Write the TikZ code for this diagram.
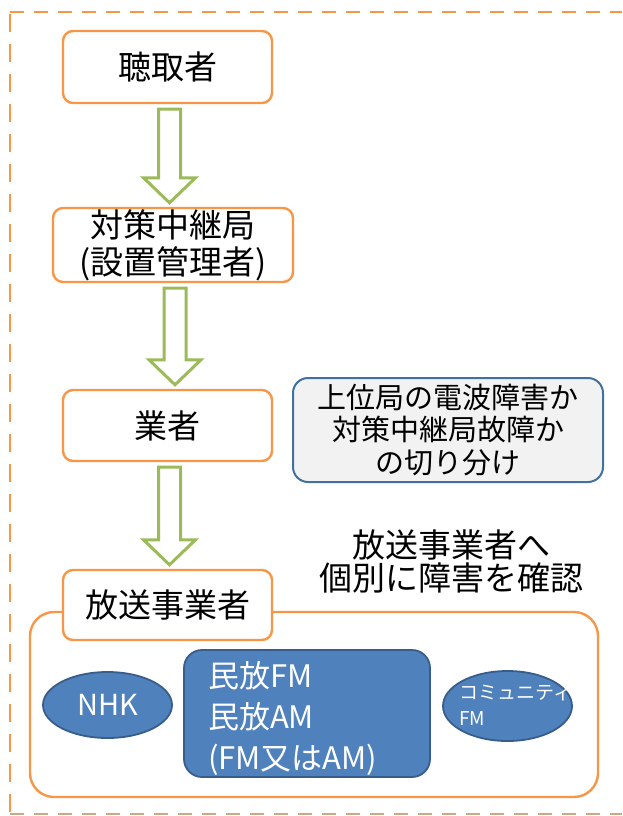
\documentclass[tikz,border=0pt]{standalone}
\usepackage{fontspec}
\setmainfont{Noto Sans CJK JP}
\usepackage{xcolor}
\definecolor{flowOrange}{HTML}{F79646}
\definecolor{frameTan}{HTML}{C8A98A}
\definecolor{arrowGreen}{HTML}{9BBB59}
\definecolor{stationBlue}{HTML}{4F81BD}
\definecolor{stationEdge}{HTML}{385D8A}
\definecolor{noteEdge}{HTML}{41719C}
\definecolor{noteFill}{HTML}{F2F2F2}
\usepackage{tikz}
\usetikzlibrary{shapes,positioning,calc}
\tikzset{
  flowBox/.style={
    rectangle,
    rounded corners=10pt,
    draw=flowOrange,
    line width=2.4pt,
    fill=white,
    align=center,
    inner sep=0pt,
    font=\fontsize{33}{37}\selectfont
 },
  noteBox/.style={
    rectangle,
    rounded corners=15pt,
    draw=noteEdge,
    line width=2pt,
    fill=noteFill,
    align=center,
    inner sep=0pt,
    font=\fontsize{29}{32.5}\selectfont
 },
  stationBox/.style={
    rectangle,
    rounded corners=18pt,
    draw=stationEdge,
    line width=1.8pt,
    fill=stationBlue,
    text=white,
    inner sep=0pt
 },
  stationOval/.style={
    ellipse,
    draw=stationEdge,
    line width=1.8pt,
    fill=stationBlue,
    text=white,
    inner sep=0pt
 },
  hollowArrow/.style={
    draw=arrowGreen,
    line width=3pt,
    fill=white,
    line join=miter
 },
  frameLine/.style={
    line width=2.5pt,
    dash pattern=on 14pt off 10pt
 }
}
% block arrow from the bottom of #1 to the top of #2
\newcommand{\downArrow}[2]{%
  \draw[hollowArrow] let \p1=($(#1.south)+(2,5)$), \p2=($(#2.north)+(0,-4)$) in
    (\x1-11pt,\y1) -- (\x1+11pt,\y1) -- (\x1+11pt,\y2+25pt) -- (\x1+26pt,\y2+25pt)
    -- (\x1,\y2) -- (\x1-26pt,\y2+25pt) -- (\x1-11pt,\y2+25pt) -- cycle;}

\begin{document}
\begin{tikzpicture}[x=1pt,y=-1pt]
  \useasboundingbox (0,0) rectangle (622,816);

  % outer dashed frame
  \draw[frameLine, draw=flowOrange] (10,12) -- (622,12);
  \draw[frameLine, draw=flowOrange, dash pattern=on 18pt off 12pt] (10,14) -- (10,813);
  \draw[frameLine, draw=frameTan] (10,814) -- (622,814);

  % flow
  \node[flowBox, minimum width=209pt, minimum height=72pt] (listener) at (167.5,67) {聴取者};
  \node[flowBox, minimum width=240pt, minimum height=74pt] (relay) at (173,245) {対策中継局\\(設置管理者)};
  \node[flowBox, minimum width=209pt, minimum height=71pt] (contractor) at (167.5,425.5) {業者};

  % note beside
  \node[noteBox, minimum width=310pt, minimum height=104pt] (isolate) at (448,430)
    {上位局の電波障害か\\対策中継局故障か\\の切り分け};
  \node[align=center, font=\fontsize{33}{33}\selectfont] (confirm) at (451,561)
    {放送事業者へ\\個別に障害を確認};

  % broadcasters
  \node[rectangle, rounded corners=24pt, draw=flowOrange, line width=2.4pt,
    minimum width=568pt, minimum height=185pt] (group) at (314,704.5) {};
  \node[flowBox, minimum width=209pt, minimum height=70pt] (broadcaster) at (167.5,605) {放送事業者};

  \node[stationOval, minimum width=129pt, minimum height=66pt,
    font=\fontsize{29}{32}\selectfont] (nhk) at (107.5,705) {NHK};
  \node[stationBox, minimum width=246pt, minimum height=127pt, text width=198pt,
    align=left, font=\fontsize{31}{41}\selectfont] (commercial) at (307,713.5)
    {\rule{0pt}{37pt}民放FM\\民放AM\\(FM又はAM)};
  \node[stationOval, minimum width=129pt, minimum height=70pt,
    font=\fontsize{19}{26}\selectfont] (community) at (507.5,706)
    {\makebox[0pt]{\hspace*{14pt}\smash{\raisebox{-4pt}{\parbox{110pt}{コミュニティ\\FM}}}}};

  % arrows
  \downArrow{listener}{relay}
  \downArrow{relay}{contractor}
  \downArrow{contractor}{broadcaster}

\end{tikzpicture}
\end{document}
